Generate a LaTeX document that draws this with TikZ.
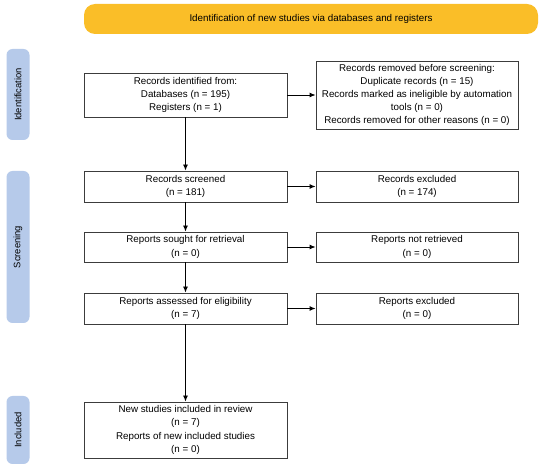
\documentclass[tikz,border=0pt]{standalone}
\usepackage{fontspec}
\setmainfont{Liberation Sans}
\usetikzlibrary{arrows.meta}
\definecolor{bannercol}{RGB}{250,190,40}
\definecolor{sidecol}{RGB}{182,202,234}
\definecolor{linecol}{RGB}{60,60,60}
\begin{document}
\begin{tikzpicture}[x=1pt,y=-1pt,
  box/.style={draw=linecol,line width=0.9pt,fill=white,align=center,inner sep=1pt,
    font=\fontsize{9.8}{13.2}\selectfont},
  side/.style={fill=sidecol,rounded corners=6pt,minimum width=23pt,inner sep=0pt},
  sidetext/.style={rotate=90,font=\fontsize{9.4}{11}\selectfont},
  arr/.style={draw=black,line width=0.9pt,-{Latex[length=6pt,width=5pt]}}]
\useasboundingbox (0,0) rectangle (550,468);
% banner
\node[fill=bannercol,rounded corners=11pt,minimum width=454pt,minimum height=30pt,
  font=\fontsize{9.8}{11}\selectfont] (banner) at (311,19)
  {Identification of new studies via databases and registers};
% side labels
\node[side,minimum height=91pt] (sideid) at (18,94.5) {};
\node[sidetext] (sideidt) at (sideid.center) {Identification};
\node[side,minimum height=152pt] (sidescr) at (18,247) {};
\node[sidetext] (sidescrt) at (sidescr.center) {Screening};
\node[side,minimum height=68pt] (sideinc) at (18,430) {};
\node[sidetext] (sideinct) at (sideinc.center) {Included};
% boxes
\node[box,minimum width=203pt,minimum height=44pt] (A) at (185.5,95)
  {Records identified from:\\Databases (n = 195)\\Registers (n = 1)};
\node[box,minimum width=202pt,minimum height=68pt] (B) at (417,95)
  {Records removed before screening:\\Duplicate records (n = 15)\\Records marked as ineligible by automation\\tools (n = 0)\\Records removed for other reasons (n = 0)};
\node[box,minimum width=203pt,minimum height=31pt] (C) at (185.5,186.5)
  {Records screened\\(n = 181)};
\node[box,minimum width=202pt,minimum height=31pt] (D) at (417,186.5)
  {Records excluded\\(n = 174)};
\node[box,minimum width=203pt,minimum height=30pt] (E) at (185.5,247)
  {Reports sought for retrieval\\(n = 0)};
\node[box,minimum width=202pt,minimum height=30pt] (F) at (417,247)
  {Reports not retrieved\\(n = 0)};
\node[box,minimum width=203pt,minimum height=31pt] (G) at (185.5,308.5)
  {Reports assessed for eligibility\\(n = 7)};
\node[box,minimum width=202pt,minimum height=31pt] (H) at (417,308.5)
  {Reports excluded\\(n = 0)};
\node[box,minimum width=203pt,minimum height=56pt] (I) at (185.5,430)
  {New studies included in review\\(n = 7)\\Reports of new included studies\\(n = 0)};
% arrows
\draw[arr] (A) -- (B);
\draw[arr] (C) -- (D);
\draw[arr] (E) -- (F);
\draw[arr] (G) -- (H);
\draw[arr] (A) -- (C);
\draw[arr] (C) -- (E);
\draw[arr] (E) -- (G);
\draw[arr] (G) -- (I);
\end{tikzpicture}
\end{document}
